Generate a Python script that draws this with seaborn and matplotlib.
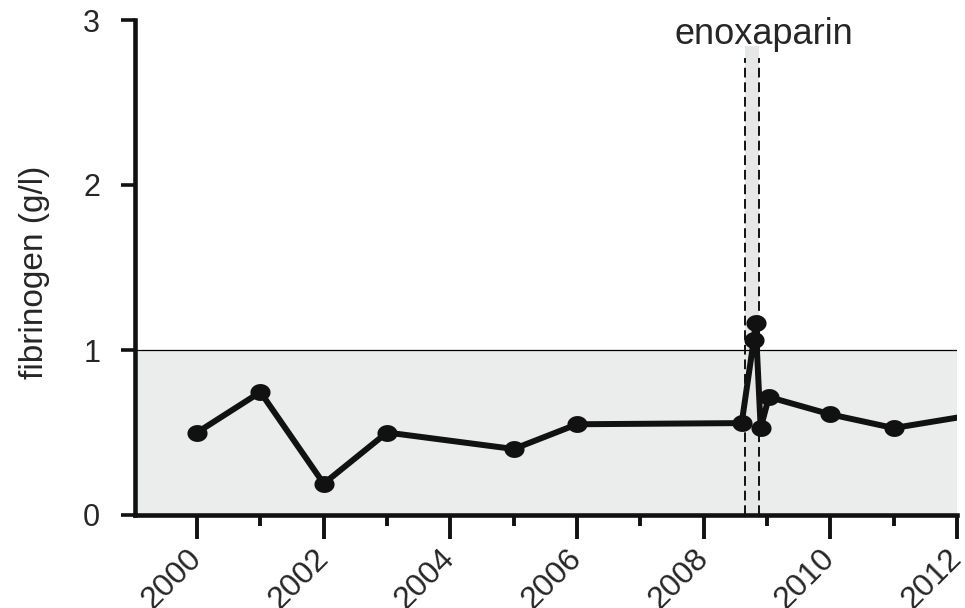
import matplotlib
matplotlib.use("Agg")
import matplotlib.pyplot as plt
import seaborn as sns
import numpy as np
import pandas as pd
from matplotlib.path import Path
from matplotlib.ticker import MultipleLocator

# ---- data ----
years = [2000.0, 2001.0, 2002.0, 2003.0, 2005.0, 2006.0, 2008.60, 2008.79, 2008.82,
         2008.90, 2009.03, 2010.0, 2011.0, 2012.0]
fibrinogen = [0.50, 0.745, 0.19, 0.50, 0.40, 0.55, 0.557, 1.06, 1.165,
              0.527, 0.715, 0.61, 0.527, 0.59]
band_start, band_end = 2008.66, 2008.87
normal_upper = 1.0
xticks_major = [2000, 2002, 2004, 2006, 2008, 2010, 2012]
yticks = [0, 1, 2, 3]
label_text = "enoxaparin"
ylabel = "fibrinogen (g/l)"

df = pd.DataFrame({"year": years, "fibrinogen": fibrinogen})

sns.set_style("ticks")
plt.rcParams['font.family'] = ['Liberation Sans', 'DejaVu Sans']

fig = plt.figure(figsize=(9.65, 6.08), dpi=100)
ax = fig.add_axes([135/965, (608-515)/608, (957-135)/965, (515-20)/608])

# shaded normal range below 1
ax.axhspan(0, normal_upper, color="#ebecec", zorder=0, lw=0)
ax.axhline(normal_upper, color="black", lw=0.9, zorder=1)

# treatment band
top_band = 2.84
ax.fill_between([band_start, band_end], 0, top_band, color="#e6e7e7", zorder=0.5, lw=0)
for xb in (band_start, band_end):
    ax.plot([xb, xb], [0, top_band - 0.07], color="#111111", lw=1.4,
            ls=(0, (5, 2.5)), zorder=1.5)

# ellipse marker
t = np.linspace(0, 2*np.pi, 60)
ell = Path(np.column_stack([np.cos(t), 0.84*np.sin(t)]), closed=True)

sns.lineplot(data=df, x="year", y="fibrinogen", sort=False, ax=ax,
             color="#111111", lw=4.3, marker=ell, markersize=14.5,
             markeredgewidth=0, markevery=list(range(len(years)-1)), zorder=3)

ax.set_xlim(1999.02, 2012)
ax.set_ylim(0, 3)
ax.set_xticks(xticks_major)
ax.xaxis.set_minor_locator(MultipleLocator(1))
ax.set_yticks(yticks)
ax.set_yticklabels([str(v) for v in yticks], fontsize=22)
ax.set_xticklabels([str(v) for v in xticks_major], fontsize=23, rotation=45,
                   ha="right", va="center", rotation_mode="anchor")

ax.set_xlabel("")
ax.set_ylabel(ylabel, fontsize=24)
ax.yaxis.set_label_coords(-0.122, 0.49)
ax.yaxis.label.set_va("center")

for s in ("top", "right"):
    ax.spines[s].set_visible(False)
for s in ("left", "bottom"):
    ax.spines[s].set_linewidth(3.3)
    ax.spines[s].set_color("#111111")

ax.tick_params(axis="y", length=10, width=2.6, pad=15, color="#111111")
ax.tick_params(axis="x", which="major", length=17, width=2.8, pad=11, color="#111111")
ax.tick_params(axis="x", which="minor", length=8, width=2.8, color="#111111")

ax.text(2008.95, 2.91, label_text, fontsize=26, ha="center", va="center")

fig.savefig("out.png", dpi=100)
